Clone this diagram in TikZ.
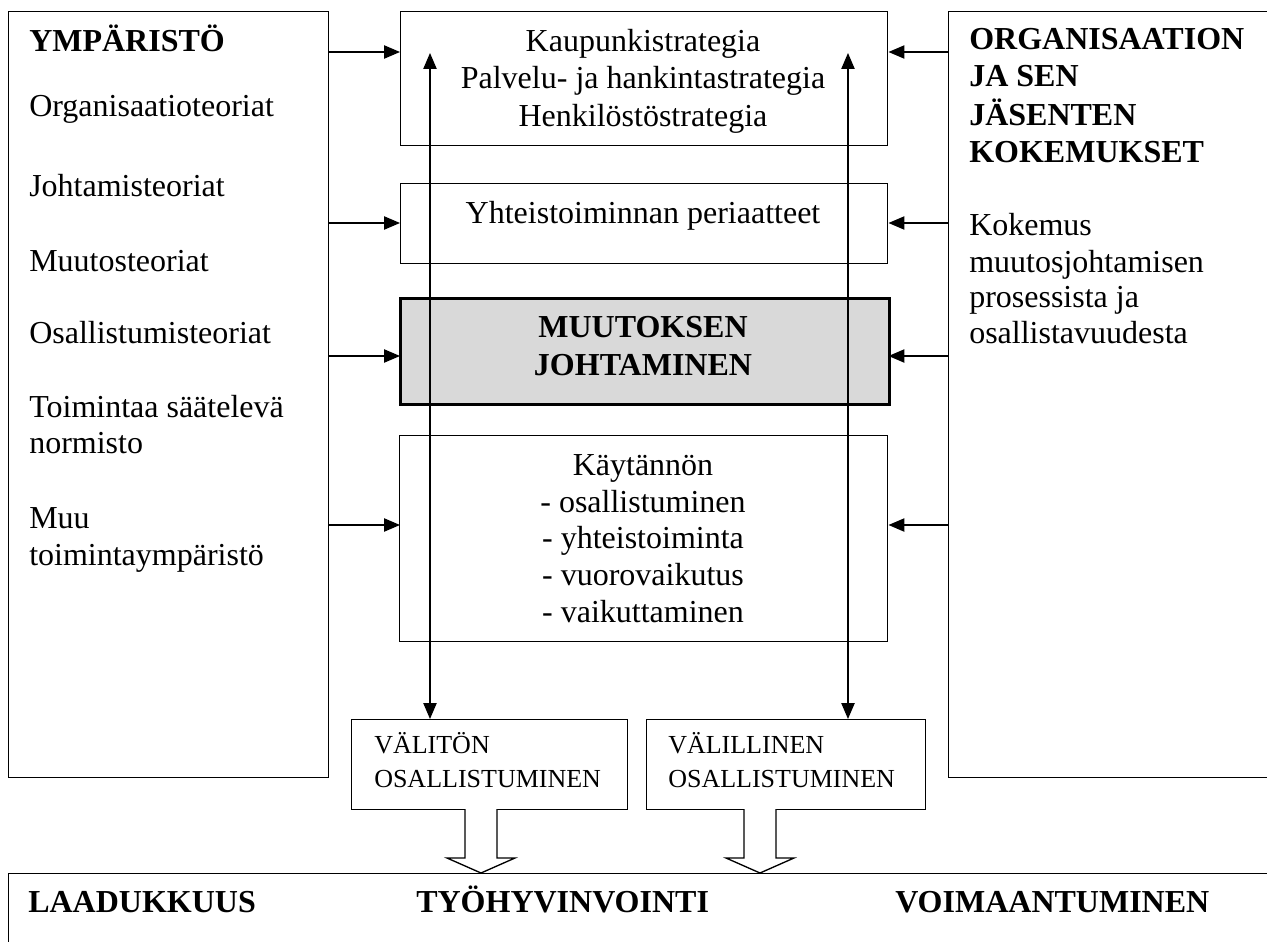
\documentclass[tikz,border=0pt]{standalone}
\usepackage{fontspec}
\setmainfont{Liberation Serif}
\usetikzlibrary{arrows.meta}
\definecolor{lgray}{RGB}{217,217,217}
\begin{document}
\begin{tikzpicture}[x=0.75pt, y=-0.75pt,
  box/.style={draw, line width=1.1pt, anchor=north west, inner sep=0pt},
  thickbox/.style={box, line width=2.6pt, fill=lgray},
  txt/.style={inner sep=0pt, font=\fontsize{24}{27.75}\selectfont},
  btxt/.style={inner sep=0pt, font=\fontsize{24}{27.75}\selectfont\bfseries},
  stxt/.style={inner sep=0pt, font=\fontsize{19.5}{23}\selectfont},
  conn/.style={line width=1pt, -{Triangle[length=12pt,width=10pt]}},
  dconn/.style={line width=1pt, {Triangle[length=12pt,width=10pt]}-{Triangle[length=12pt,width=10pt]}},
  hollow/.style={draw, line width=1pt, fill=white, line join=miter}
]
\clip (0,0) rectangle (1267,942);
\fill[white] (0,0) rectangle (1267,942);

% boxes
\node[box, minimum width=240pt, minimum height=574.5pt] (env) at (8,11) {};
\node[box, minimum width=256.5pt, minimum height=574.5pt] (exp) at (948,11) {};
\node[box, minimum width=365.25pt, minimum height=100.5pt] (strat) at (400,11) {};
\node[box, minimum width=365.25pt, minimum height=60pt] (princ) at (400,183) {};
\node[thickbox, minimum width=366.75pt, minimum height=79.5pt] (lead) at (399,297) {};
\node[box, minimum width=366pt, minimum height=154.5pt] (prac) at (399,435) {};
\node[box, minimum width=207pt, minimum height=67.5pt] (direct) at (351,719) {};
\node[box, minimum width=209.25pt, minimum height=67.5pt] (indirect) at (646,719) {};
\node[box, minimum width=1000pt, minimum height=100pt] (result) at (8,873) {};

% horizontal connectors
\coordinate (r1) at (0,52);
\coordinate (r2) at (0,223);
\coordinate (r3) at (0,356);
\coordinate (r4) at (0,525);
\foreach \r in {r1,r2,r3,r4}{
  \draw[conn] (env.east |- \r) -- (strat.west |- \r);
  \draw[conn] (exp.west |- \r) -- (strat.east |- \r);
}

% vertical double connectors
\coordinate (vl) at (430,53);
\coordinate (vr) at (848,53);
\draw[dconn] (vl) -- (vl |- direct.north);
\draw[dconn] (vr) -- (vr |- indirect.north);

% hollow block arrows
\draw[hollow] (465,809) -- (465,858) -- (447,858) -- (481,873) -- (515,858) -- (497,858) -- (497,809);
\draw[hollow] (744,809) -- (744,858) -- (726,858) -- (760,873) -- (794,858) -- (776,858) -- (776,809);

% left box text
\node[btxt, anchor=base west] (e0) at (29,52) {YMPÄRISTÖ};
\node[txt, anchor=base west] (e1) at (29,116) {Organisaatioteoriat};
\node[txt, anchor=base west] (e2) at (29,196) {Johtamisteoriat};
\node[txt, anchor=base west] (e3) at (29,271) {Muutosteoriat};
\node[txt, anchor=base west] (e4) at (29,343) {Osallistumisteoriat};
\node[txt, anchor=base west] (e5) at (29,417) {Toimintaa säätelevä};
\node[txt, anchor=base west] (e6) at (29,453) {normisto};
\node[txt, anchor=base west] (e7) at (29,528) {Muu};
\node[txt, anchor=base west] (e8) at (29,565) {toimintaympäristö};

% right box text
\node[btxt, anchor=base west] (k0) at (969,50) {ORGANISAATION};
\node[btxt, anchor=base west] (k1) at (969,87) {JA SEN};
\node[btxt, anchor=base west] (k2) at (969,125) {JÄSENTEN};
\node[btxt, anchor=base west] (k3) at (969,162) {KOKEMUKSET};
\node[txt, anchor=base west] (k4) at (969,235) {Kokemus};
\node[txt, anchor=base west] (k5) at (969,272) {muutosjohtamisen};
\node[txt, anchor=base west] (k6) at (969,307) {prosessista ja};
\node[txt, anchor=base west] (k7) at (969,343) {osallistavuudesta};

% centre column text
\node[txt, anchor=base] (s1) at (643,52) {Kaupunkistrategia};
\node[txt, anchor=base] (s2) at (643,89) {Palvelu- ja hankintastrategia};
\node[txt, anchor=base] (s3) at (643,126) {Henkilöstöstrategia};
\node[txt, anchor=base] (p1) at (643,223) {Yhteistoiminnan periaatteet};
\node[btxt, anchor=base] (m1) at (643,337) {MUUTOKSEN};
\node[btxt, anchor=base] (m2) at (643,375) {JOHTAMINEN};
\node[txt, anchor=base] (c1) at (643,475) {Käytännön};
\node[txt, anchor=base] (c2) at (643,512) {- osallistuminen};
\node[txt, anchor=base] (c3) at (643,548) {- yhteistoiminta};
\node[txt, anchor=base] (c4) at (643,585) {- vuorovaikutus};
\node[txt, anchor=base] (c5) at (643,622) {- vaikuttaminen};

% participation boxes text
\node[stxt, anchor=base west] (d1) at (374,753) {VÄLITÖN};
\node[stxt, anchor=base west] (d2) at (374,787) {OSALLISTUMINEN};
\node[stxt, anchor=base west] (i1) at (668,753) {VÄLILLINEN};
\node[stxt, anchor=base west] (i2) at (668,787) {OSALLISTUMINEN};

% result text
\node[btxt, anchor=base west] (o1) at (28,912) {LAADUKKUUS};
\node[btxt, anchor=base west] (o2) at (416,912) {TYÖHYVINVOINTI};
\node[btxt, anchor=base west] (o3) at (895,912) {VOIMAANTUMINEN};
\end{tikzpicture}
\end{document}
